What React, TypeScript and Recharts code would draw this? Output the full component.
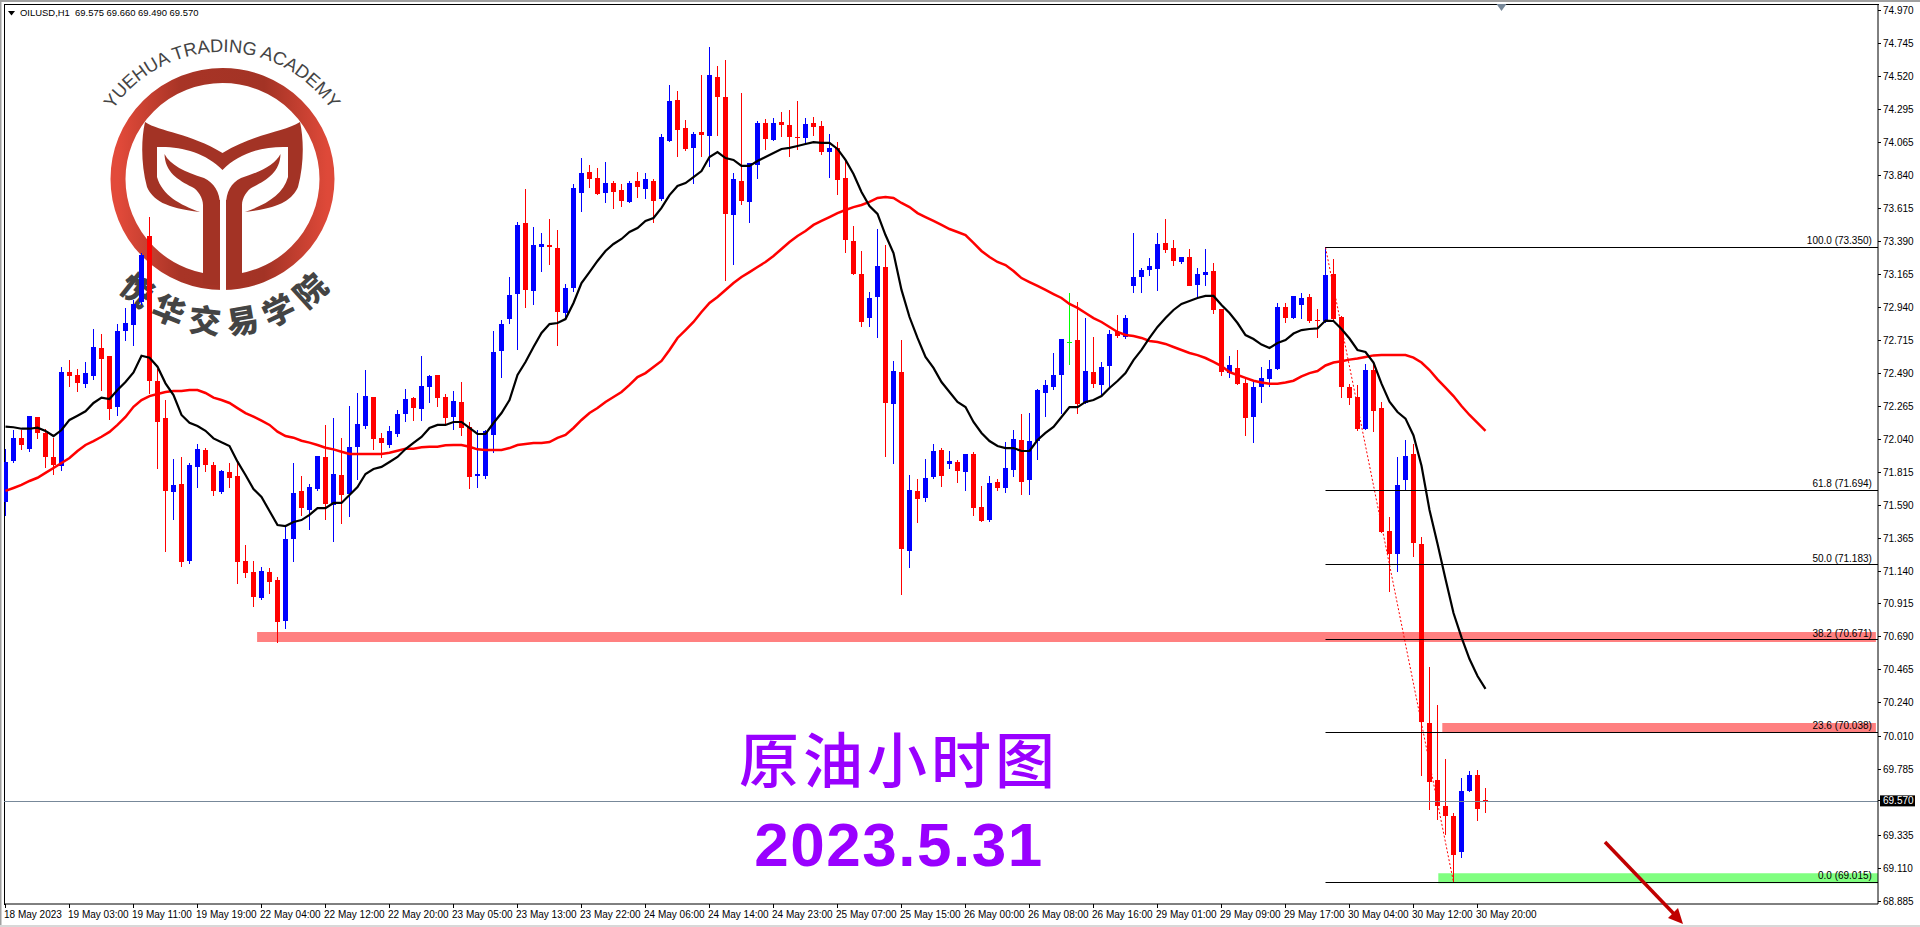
import React from "react";
import { ComposedChart, Bar, Line, XAxis, YAxis, ReferenceArea, ReferenceLine, ReferenceDot } from "recharts";

const symbolHeader = "OILUSD,H1  69.575 69.660 69.490 69.570";
const chartTitle = "原油小时图";
const chartDate = "2023.5.31";
const logoEnglish = "YUEHUA TRADING ACADEMY";
const logoChinese = "悦华交易学院";

const timeLabels = ["18 May 2023","19 May 03:00","19 May 11:00","19 May 19:00","22 May 04:00","22 May 12:00","22 May 20:00","23 May 05:00","23 May 13:00","23 May 22:00","24 May 06:00","24 May 14:00","24 May 23:00","25 May 07:00","25 May 15:00","26 May 00:00","26 May 08:00","26 May 16:00","29 May 01:00","29 May 09:00","29 May 17:00","30 May 04:00","30 May 12:00","30 May 20:00"];
const priceTicks = [74.97,74.745,74.52,74.295,74.065,73.84,73.615,73.39,73.165,72.94,72.715,72.49,72.265,72.04,71.815,71.59,71.365,71.14,70.915,70.69,70.465,70.24,70.01,69.785,69.57,69.335,69.11,68.885];
const lastPrice = 69.57;

// [high, open, close, low]
const candles: number[][] = [
[71.973,71.613,71.883,71.518],[72.103,71.891,72.049,71.880],[72.103,72.049,72.001,71.967],[72.199,71.973,72.199,71.953],[72.194,72.192,72.083,72.042],[72.110,72.083,71.919,71.844],[72.049,71.919,71.865,71.796],[72.533,71.858,72.499,71.824],[72.581,72.499,72.472,72.397],[72.520,72.479,72.424,72.363],
[72.568,72.417,72.492,72.390],[72.793,72.472,72.670,72.445],[72.759,72.663,72.588,72.370],[72.609,72.609,72.247,72.172],[72.827,72.260,72.779,72.199],[72.937,72.779,72.834,72.711],[72.991,72.820,72.964,72.677],[73.312,72.978,73.299,72.957],[73.558,73.428,72.438,72.349],[72.520,72.438,72.158,71.837],
[72.308,72.185,71.687,71.270],[71.905,71.680,71.728,71.488],[71.919,71.735,71.202,71.168],[71.878,71.209,71.864,71.188],[72.007,71.851,71.973,71.707],[71.980,71.967,71.865,71.817],[71.885,71.865,71.687,71.653],[71.830,71.680,71.824,71.666],[71.878,71.817,71.776,71.707],[71.878,71.789,71.202,71.051],
[71.318,71.209,71.127,71.093],[71.209,71.134,70.963,70.895],[71.168,70.956,71.141,70.942],[71.161,71.134,71.065,70.983],[71.099,71.079,70.792,70.649],[71.441,70.799,71.359,70.744],[71.878,71.359,71.673,71.202],[71.789,71.687,71.570,71.516],[71.735,71.557,71.714,71.420],[71.926,71.700,71.926,71.687],
[72.138,71.919,71.598,71.488],[72.185,71.591,71.803,71.338],[72.049,71.796,71.659,71.461],[72.267,71.666,71.987,71.509],[72.356,71.987,72.144,71.762],[72.513,72.131,72.335,72.110],[72.329,72.329,72.042,71.967],[72.083,72.049,72.015,71.912],[72.131,72.001,72.097,71.980],[72.240,72.076,72.213,72.056],
[72.383,72.213,72.315,72.158],[72.329,72.322,72.253,72.165],[72.609,72.247,72.404,72.165],[72.479,72.397,72.472,72.288],[72.479,72.479,72.322,72.260],[72.349,72.329,72.185,72.144],[72.370,72.192,72.301,72.103],[72.431,72.295,72.117,72.062],[72.158,72.124,71.782,71.700],[72.103,71.789,71.803,71.707],
[72.103,71.789,72.097,71.769],[72.779,72.069,72.636,71.946],[72.855,72.643,72.827,72.459],[73.148,72.861,73.025,72.827],[73.524,73.032,73.504,72.650],[73.750,73.517,73.060,72.937],[73.490,73.053,73.367,72.957],[73.449,73.353,73.374,73.183],[73.545,73.367,73.353,73.230],[73.469,73.346,72.909,72.677],
[73.100,72.902,73.073,72.855],[73.784,73.073,73.756,73.046],[73.961,73.722,73.859,73.592],[73.913,73.866,73.818,73.756],[73.893,73.825,73.715,73.708],[73.934,73.722,73.790,73.654],[73.804,73.790,73.729,73.613],[73.784,73.743,73.667,73.626],[73.804,73.661,73.790,73.654],[73.866,73.804,73.763,73.688],
[73.859,73.749,73.818,73.681],[73.818,73.804,73.667,73.517],[74.125,73.681,74.105,73.667],[74.460,74.077,74.351,74.070],[74.419,74.357,74.152,73.968],[74.221,74.166,74.023,74.009],[74.139,74.030,74.125,73.784],[74.528,74.139,74.118,73.968],[74.719,74.111,74.528,73.900],[74.590,74.514,74.378,74.111],
[74.631,74.378,73.579,73.121],[73.859,73.572,73.818,73.230],[74.405,73.804,73.667,73.640],[73.927,73.661,73.927,73.517],[74.214,73.913,74.200,73.818],[74.228,74.200,74.091,74.016],[74.234,74.084,74.200,74.077],[74.275,74.207,74.187,74.105],[74.289,74.187,74.105,73.968],[74.351,74.105,74.098,74.016],
[74.234,74.098,74.193,74.057],[74.241,74.200,74.173,74.111],[74.214,74.180,74.002,73.982],[74.125,74.002,74.030,73.825],[74.070,74.030,73.811,73.708],[73.954,73.825,73.401,73.312],[73.497,73.394,73.169,73.162],[73.326,73.169,72.841,72.807],[73.046,72.868,73.005,72.807],[73.476,73.012,73.223,72.732],
[73.367,73.217,72.288,71.919],[72.575,72.281,72.506,71.871],[72.718,72.499,71.290,70.976],[71.796,71.277,71.694,71.161],[71.769,71.687,71.632,71.468],[71.905,71.639,71.776,71.611],[72.007,71.782,71.960,71.769],[71.980,71.967,71.789,71.714],[71.960,71.871,71.891,71.837],[71.898,71.885,71.823,71.741],
[71.939,71.817,71.939,71.687],[71.953,71.939,71.570,71.516],[71.721,71.577,71.482,71.475],[71.789,71.488,71.741,71.475],[71.769,71.748,71.707,71.687],[72.021,71.707,71.844,71.673],[72.103,71.830,72.042,71.782],[72.213,72.035,71.748,71.659],[72.219,71.762,72.028,71.659],[72.383,72.028,72.376,71.898],
[72.445,72.356,72.411,72.192],[72.629,72.397,72.479,72.376],[72.725,72.479,72.725,72.213],[73.039,72.704,72.704,72.547],[72.978,72.718,72.281,72.213],[72.868,72.288,72.506,72.281],[72.738,72.499,72.417,72.390],[72.568,72.411,72.533,72.329],[72.786,72.540,72.759,72.390],[72.889,72.773,72.745,72.732],
[72.889,72.738,72.868,72.725],[73.449,73.087,73.148,73.039],[73.210,73.148,73.196,73.039],[73.278,73.196,73.223,73.155],[73.449,73.203,73.374,73.053],[73.545,73.381,73.333,73.312],[73.401,73.346,73.258,73.223],[73.285,73.251,73.285,73.237],[73.340,73.285,73.087,73.087],[73.210,73.094,73.169,73.005],
[73.340,73.162,73.183,73.087],[73.244,73.189,72.923,72.896],[72.930,72.930,72.499,72.472],[72.609,72.492,72.547,72.459],[72.650,72.527,72.417,72.411],[72.452,72.424,72.185,72.062],[72.435,72.193,72.400,72.014],[72.535,72.397,72.457,72.288],[72.581,72.452,72.521,72.400],[72.969,72.521,72.943,72.512],
[72.969,72.946,72.866,72.831],[73.019,72.868,73.019,72.863],[73.039,72.958,73.005,72.863],[73.030,73.012,72.848,72.837],[72.930,72.855,72.848,72.734],[73.350,72.848,73.162,72.837],[73.271,73.168,72.860,72.848],[72.880,72.874,72.400,72.323],[72.417,72.400,72.323,72.271],[72.411,72.329,72.107,72.098],
[72.556,72.110,72.512,72.104],[72.556,72.512,72.233,72.090],[72.294,72.254,71.408,71.400],[71.509,71.413,71.253,71.000],[71.920,71.258,71.728,71.132],[72.032,71.762,71.926,71.694],[72.009,71.940,71.330,71.236],[71.374,71.325,70.111,69.741],[70.485,70.103,69.700,69.508],[70.226,69.712,69.536,69.439],
[69.856,69.536,69.467,69.338],[69.485,69.467,69.200,69.015],[69.726,69.221,69.637,69.183],[69.772,69.637,69.747,69.631],[69.778,69.747,69.513,69.433],[69.660,69.575,69.570,69.490],
];

const fastMA = [72.126,72.122,72.112,72.112,72.119,72.097,72.062,72.103,72.172,72.201,72.231,72.288,72.324,72.315,72.376,72.431,72.497,72.611,72.597,72.536,72.422,72.342,72.206,72.153,72.131,72.098,72.046,72.019,71.994,71.887,71.796,
71.700,71.646,71.550,71.454,71.447,71.475,71.488,71.523,71.570,71.570,71.605,71.605,71.659,71.714,71.803,71.837,71.851,71.885,71.919,71.973,72.015,72.056,72.117,72.138,72.138,72.158,72.158,72.117,72.076,72.076,72.151,72.219,
72.308,72.479,72.568,72.670,72.766,72.827,72.834,72.861,72.971,73.107,73.182,73.258,73.326,73.374,73.408,73.456,73.483,73.531,73.551,73.620,73.708,73.770,73.790,73.831,73.872,73.968,74.002,73.961,73.948,73.907,73.907,
73.941,73.968,73.995,74.023,74.030,74.043,74.057,74.070,74.064,74.064,74.023,73.948,73.852,73.729,73.633,73.579,73.435,73.312,73.060,72.875,72.732,72.602,72.527,72.431,72.363,72.295,72.260,72.158,72.083,72.028,71.994,
71.980,71.980,71.960,71.960,72.035,72.083,72.124,72.192,72.260,72.260,72.295,72.308,72.335,72.390,72.438,72.492,72.581,72.650,72.732,72.807,72.868,72.923,72.964,72.984,73.005,73.019,73.019,72.957,72.902,72.834,72.752,
72.725,72.687,72.663,72.697,72.718,72.762,72.786,72.793,72.797,72.851,72.848,72.793,72.728,72.650,72.636,72.564,72.420,72.296,72.226,72.181,72.066,71.859,71.557,71.327,71.086,70.853,70.687,70.539,70.423,70.335];

const slowMA = [71.687,71.707,71.728,71.755,71.777,71.810,71.844,71.878,71.912,71.960,72.001,72.028,72.057,72.090,72.138,72.192,72.262,72.308,72.335,72.349,72.363,72.370,72.370,72.376,72.376,72.356,72.324,72.308,72.288,72.253,72.219,
72.194,72.167,72.138,72.092,72.062,72.051,72.030,72.017,72.001,71.982,71.971,71.955,71.939,71.939,71.939,71.939,71.939,71.948,71.962,71.976,71.976,71.985,71.989,71.989,71.999,72.001,72.001,71.989,71.971,71.967,71.967,71.967,
71.980,72.001,72.008,72.015,72.015,72.021,72.049,72.069,72.117,72.172,72.219,72.253,72.295,72.329,72.363,72.411,72.465,72.492,72.533,72.575,72.650,72.732,72.786,72.841,72.909,72.971,73.012,73.060,73.107,73.148,73.182,
73.217,73.251,73.292,73.340,73.387,73.428,73.463,73.504,73.531,73.558,73.585,73.606,73.626,73.640,73.661,73.688,73.695,73.688,73.654,73.626,73.585,73.558,73.531,73.504,73.476,73.456,73.435,73.381,73.326,73.285,73.251,
73.230,73.189,73.141,73.114,73.087,73.060,73.032,73.005,72.964,72.937,72.902,72.868,72.841,72.807,72.773,72.752,72.745,72.732,72.711,72.704,72.691,72.670,72.650,72.629,72.615,72.595,72.568,72.540,72.499,72.479,72.459,
72.440,72.428,72.420,72.420,72.428,72.440,72.469,72.492,72.506,72.544,72.564,72.573,72.584,72.592,72.602,72.613,72.615,72.615,72.615,72.615,72.598,72.564,72.513,72.449,72.392,72.335,72.267,72.206,72.152,72.098];

const fibLevels = [
  { label: "100.0 (73.350)", price: 73.35 },
  { label: "61.8 (71.694)", price: 71.694 },
  { label: "50.0 (71.183)", price: 71.183 },
  { label: "38.2 (70.671)", price: 70.671 },
  { label: "23.6 (70.038)", price: 70.038 },
  { label: "0.0 (69.015)", price: 69.015 },
];
const fibStartBar = 165;
const fibEndBar = 181;
const dojiGreenBar = 133;

const zones = [
  { x1: 31.45, x2: 233.8, y1: 70.655, y2: 70.7235, fill: "#FF8080" },
  { x1: 179.6, x2: 233.8, y1: 70.0385, y2: 70.102, fill: "#FF8080" },
  { x1: 179.1, x2: 234.06, y1: 69.007, y2: 69.0755, fill: "#80FF80" },
];

const BAR_MIN = -0.1875;
const BAR_MAX = 234.0625;
const PRICE_MIN = 68.8656;
const PRICE_MAX = 75.0131;
const FONT = "'Liberation Sans', Arial, sans-serif";

const rows = candles.map((c, i) => ({
  i,
  high: c[0], open: c[1], close: c[2], low: c[3],
  range: [c[3], c[0]],
  fast: fastMA[i],
  slow: slowMA[i],
}));
const xTicks = timeLabels.map((_, i) => i * 8);

function Candle(props: any) {
  const { x, y, width, height, payload } = props;
  if (x == null || y == null) return null;
  const top = Math.min(y, y + height);
  const h = Math.abs(height);
  const perUnit = h / Math.max(payload.high - payload.low, 1e-6);
  const yOf = (p: number) => top + (payload.high - p) * perUnit;
  const bull = payload.close >= payload.open;
  const color = payload.i === dojiGreenBar ? "#00FF00" : bull ? "#0000FF" : "#FF0000";
  const cx = Math.floor(x + width / 2) + 0.5;
  const bt = Math.round(yOf(Math.max(payload.open, payload.close)));
  const bb = Math.round(yOf(Math.min(payload.open, payload.close)));
  const wt = Math.round(top);
  const wb = Math.round(top + h);
  return (
    <g shapeRendering="crispEdges">
      <rect x={cx - 0.5} y={wt} width={1} height={Math.max(wb - wt, 1)} fill={color} />
      <rect x={cx - 2.5} y={bt} width={5} height={Math.max(bb - bt, 1)} fill={color} />
    </g>
  );
}

function PriceTick(props: any) {
  const { x, y, payload } = props;
  const v = payload.value as number;
  const isLast = Math.abs(v - lastPrice) < 1e-6;
  return (
    <g>
      <rect x={x - 10} y={Math.floor(y)} width={3} height={1} fill="#000" />
      {isLast && <rect x={x - 8} y={y - 5.5} width={35} height={11} fill="#000" />}
      <text x={x - 5} y={y + 3.5} fontSize={10} fontFamily={FONT} fill={isLast ? "#fff" : "#000"}>{v.toFixed(3)}</text>
    </g>
  );
}

function TimeTick(props: any) {
  const { x, y, payload } = props;
  return (
    <g>
      <rect x={Math.floor(x)} y={y - 10} width={1} height={4} fill="#000" />
      <text x={x - 1.5} y={y + 4} fontSize={10} fontFamily={FONT} fill="#000">{timeLabels[payload.value / 8]}</text>
    </g>
  );
}

function HLine(props: any) {
  const { x1, x2, y1, color } = props;
  return <rect x={Math.min(x1, x2)} y={Math.floor(y1 + 0.2)} width={Math.abs(x2 - x1)} height={1} fill={color} />;
}

function Logo() {
  return (
    <svg width={1920} height={927} style={{ position: "absolute", left: 0, top: 0 }}>
      <defs>
        <linearGradient id="ringFill" x1="0" x2="1" y1="0" y2="0">
          <stop offset="0" stopColor="#E24A3A" />
          <stop offset="0.3" stopColor="#A83426" />
          <stop offset="0.7" stopColor="#A33325" />
          <stop offset="1" stopColor="#DE4939" />
        </linearGradient>
        <path id="logoTopArc" d="M 90,184 A 132,132 0 0 1 354,184" />
        <path id="logoBottomArc" d="M 78,188 A 146,146 0 0 0 370,188" />
      </defs>
      <rect x={0} y={0} width={1920} height={2} fill="#A0A0A0" />
      <rect x={0} y={0} width={1.5} height={927} fill="#A0A0A0" />
      <rect x={0} y={925} width={1920} height={2} fill="#D8D8D8" />
      <rect x={4} y={4} width={1875} height={1} fill="#000" />
      <rect x={4} y={4} width={1} height={901} fill="#000" />
      <ellipse cx={222.5} cy={179} rx={104.5} ry={103.5} fill="none" stroke="url(#ringFill)" strokeWidth={15} />
      <rect x={203} y={200} width={17} height={85} fill="#A33325" />
      <rect x={226} y={200} width={16} height={85} fill="#A33325" />
      <rect x={220} y={195} width={6} height={100} fill="#fff" />
      <path fill="#A33325" d="M145,122 C160,132 190,133 222.5,153 C255,133 285,132 300,122 C304,140 304,165 298,187 C292,200 280,208 245,212 C265,205 283,195 288,177 L288,147 C265,146 240,152 222.5,170 C205,152 180,146 157,147 L157,177 C162,195 180,205 200,212 C165,208 153,200 147,187 C141,165 141,140 145,122 Z" />
      <path fill="#A33325" d="M164.5,154 C170,165 185,172 204,178 C214,183 220,192 220,205 L220,240 L203,240 L203,205 C203,198 198,190 192,187 C178,180 165,172 164.5,154 Z" />
      <path fill="#A33325" d="M280.5,154 C275,165 260,172 241,178 C231,183 226,192 226,205 L226,240 L242,240 L242,205 C242,198 247,190 253,187 C267,180 280,172 280.5,154 Z" />
      <text fontFamily={FONT} fontSize={18.3} fill="#444">
        <textPath href="#logoTopArc" startOffset="50%" textAnchor="middle">{logoEnglish}</textPath>
      </text>
      <text fontFamily="'Noto Sans CJK SC'" fontSize={32} fontWeight={900} fill="#444" letterSpacing={9}>
        <textPath href="#logoBottomArc" startOffset="51%" textAnchor="middle">{logoChinese}</textPath>
      </text>
      <polygon points="8,11 15,11 11.5,15.5" fill="#000" />
      <text x={20} y={16} fontSize={9.45} fontFamily={FONT} fill="#000" style={{ whiteSpace: "pre" }}>{symbolHeader}</text>
    </svg>
  );
}

function Overlay() {
  return (
    <svg width={1920} height={927} style={{ position: "absolute", left: 0, top: 0, pointerEvents: "none" }}>
      <text x={899} y={783} textAnchor="middle" fontFamily="'Noto Sans CJK SC'" fontWeight={500} fontSize={60} letterSpacing={4} fill="#9900FF">{chartTitle}</text>
      <text x={899} y={866} textAnchor="middle" fontFamily={FONT} fontWeight={700} fontSize={62} letterSpacing={1.5} fill="#9900FF">{chartDate}</text>
      <line x1={1605} y1={842} x2={1675} y2={915} stroke="#C00000" strokeWidth={3.5} />
      <polygon points="1683,924 1668,918 1678,908" fill="#C00000" />
    </svg>
  );
}

export default function App() {
  return (
    <div style={{ position: "absolute", left: 0, top: 0, width: 1920, height: 927, overflow: "hidden", background: "#fff" }}>
      <Logo />
      <div style={{ position: "absolute", left: 0, top: 0 }}>
        <ComposedChart width={1920} height={927} data={rows} margin={{ top: 4, right: 0, bottom: 0, left: 4 }}>
          <XAxis dataKey="i" type="number" domain={[BAR_MIN, BAR_MAX]} allowDataOverflow ticks={xTicks} interval={0} height={23} tickSize={8} tickLine={false} axisLine={{ stroke: "#000" }} tick={<TimeTick />} />
          <YAxis type="number" orientation="right" domain={[PRICE_MIN, PRICE_MAX]} allowDataOverflow ticks={priceTicks} interval={0} width={42} tickSize={8} tickLine={false} axisLine={{ stroke: "#000" }} tick={<PriceTick />} />
          {zones.map((z, i) => (
            <ReferenceArea key={i} x1={z.x1} x2={z.x2} y1={z.y1} y2={z.y2} fill={z.fill} fillOpacity={1} stroke="none" ifOverflow="extendDomain" />
          ))}
          <ReferenceLine y={lastPrice} stroke="#778899" shape={(p: any) => <HLine {...p} color="#778899" />} />
          <ReferenceLine segment={[{ x: fibStartBar, y: fibLevels[0].price }, { x: fibEndBar, y: fibLevels[5].price }]} stroke="#FF0000" strokeWidth={1} strokeDasharray="2 2" />
          <Bar dataKey="range" barSize={5} shape={<Candle />} isAnimationActive={false} />
          <Line dataKey="slow" type="linear" stroke="#FF0000" strokeWidth={2.5} dot={false} isAnimationActive={false} />
          <Line dataKey="fast" type="linear" stroke="#000000" strokeWidth={2.2} dot={false} isAnimationActive={false} />
          {fibLevels.map((f, i) => (
            <ReferenceLine key={i} segment={[{ x: fibStartBar, y: f.price }, { x: BAR_MAX, y: f.price }]} stroke="#000" shape={(p: any) => <HLine {...p} color="#000" />} />
          ))}
          {fibLevels.map((f, i) => (
            <ReferenceDot key={i} x={233.3} y={f.price} r={0} shape={(p: any) => (
              <text x={p.cx} y={p.cy - 3} textAnchor="end" fontSize={10} fontFamily={FONT} fill="#000">{f.label}</text>
            )} />
          ))}
          <ReferenceDot x={187} y={PRICE_MAX} r={0} shape={(p: any) => (
            <polygon points={`${p.cx - 5},${p.cy} ${p.cx + 5},${p.cy} ${p.cx},${p.cy + 7}`} fill="#778899" />
          )} />
        </ComposedChart>
      </div>
      <Overlay />
    </div>
  );
}
